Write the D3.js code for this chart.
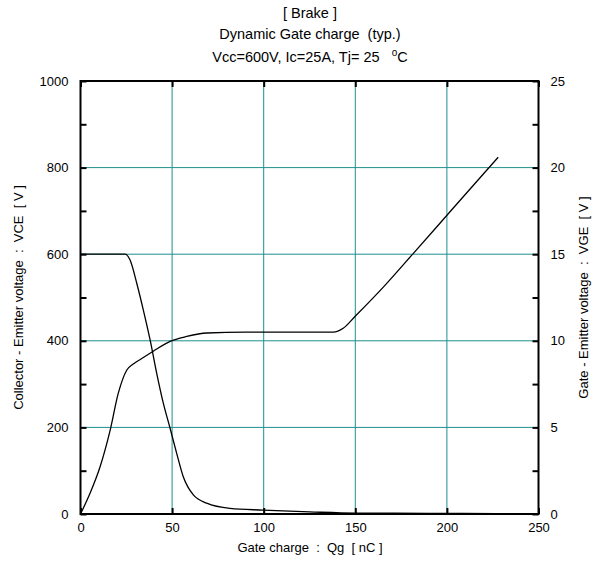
<!DOCTYPE html>
<html><head><meta charset="utf-8">
<script src="https://cdn.jsdelivr.net/npm/d3@7"></script>
<style>body{margin:0;background:#fff;} text{font-family:"Liberation Sans",Arial,sans-serif;white-space:pre;}</style>
</head><body><svg id="c" width="599" height="563"></svg>
<script>
const titleLines = ["[ Brake ]", "Dynamic Gate charge  (typ.)"];
const xTicks = [0, 50, 100, 150, 200, 250];
const yLeftTicks = [0, 200, 400, 600, 800, 1000];
const yRightTicks = [0, 5, 10, 15, 20, 25];
// VCE curve (left axis) : Qg [nC], VCE [V]
const vceQ = [0, 10, 20, 24.3, 27, 30.7, 34.3, 38, 41.6, 45.2, 48.9, 52.5, 56.1, 61.6, 68.9, 81.6, 99.6, 125, 150, 190, 227];
const vceV = [600, 600, 600, 600, 587, 533, 471, 402, 325, 256, 198, 140, 86, 44, 25, 13, 9, 5, 2, 1.5, 1];
// VGE curve (right axis) : Qg [nC], VGE [V]
const vgeQ = [0, 5.2, 10.6, 16.1, 20.6, 25.2, 28.8, 33, 39.7, 48.9, 58, 68.9, 90, 110, 138, 143.4, 149.8, 165.3, 181.7, 201.7, 221.7, 228];
const vgeV = [0, 1.2, 2.7, 4.8, 6.96, 8.3, 8.66, 8.95, 9.4, 9.97, 10.25, 10.45, 10.5, 10.5, 10.5, 10.72, 11.4, 13.1, 15.05, 17.45, 19.85, 20.6];

const svg = d3.select("#c");
const L = 80.5, R = 538.5, T = 81, B = 514;
const x = d3.scaleLinear().domain([0, 250]).range([L, R]);
const yL = d3.scaleLinear().domain([0, 1000]).range([B, T]);
const yR = d3.scaleLinear().domain([0, 25]).range([B, T]);
const grid = "#1f8f8f";
const FS = 13;

// grid
svg.append("g").selectAll("line").data([50,100,150,200]).join("line")
  .attr("x1", d=>x(d)).attr("x2", d=>x(d)).attr("y1", T).attr("y2", B)
  .attr("stroke", grid).attr("stroke-width", 1);
svg.append("g").selectAll("line").data([200,400,600,800]).join("line")
  .attr("y1", d=>yL(d)).attr("y2", d=>yL(d)).attr("x1", L).attr("x2", R)
  .attr("stroke", grid).attr("stroke-width", 1);

// axes (ticks inward)
const fmtNone = () => "";
svg.append("g").attr("transform", `translate(0,${B})`)
  .call(d3.axisBottom(x).tickValues(xTicks).tickSizeInner(-6).tickSizeOuter(0).tickPadding(9))
  .call(g => { g.select(".domain").remove(); g.selectAll("line").attr("stroke-width", 2); });
svg.append("g").attr("transform", `translate(0,${T})`)
  .call(d3.axisTop(x).tickValues(xTicks).tickSizeInner(-6).tickSizeOuter(0).tickFormat(fmtNone))
  .call(g => { g.select(".domain").remove(); g.selectAll("line").attr("stroke-width", 2); });
svg.append("g").attr("transform", `translate(${L},0)`)
  .call(d3.axisLeft(yL).tickValues(d3.range(0, 1001, 100)).tickSizeInner(-6).tickSizeOuter(0).tickPadding(12)
     .tickFormat(d => yLeftTicks.includes(d) ? d : ""))
  .call(g => { g.select(".domain").remove(); g.selectAll("line").attr("stroke-width", 2); });
svg.append("g").attr("transform", `translate(${R},0)`)
  .call(d3.axisRight(yR).tickValues(d3.range(0, 25.1, 2.5)).tickSizeInner(-6).tickSizeOuter(0).tickPadding(12)
     .tickFormat(d => yRightTicks.includes(d) ? d : ""))
  .call(g => { g.select(".domain").remove(); g.selectAll("line").attr("stroke-width", 2); });
svg.selectAll(".tick text").attr("font-size", FS).attr("fill", "#000")
  .attr("font-family", "'Liberation Sans',Arial,sans-serif");

svg.append("rect").attr("x", L).attr("y", T).attr("width", R-L).attr("height", B-T)
  .attr("fill", "none").attr("stroke", "#000").attr("stroke-width", 2);

// curves
const lineL = d3.line().x(d=>x(d[0])).y(d=>yL(d[1])).curve(d3.curveMonotoneX);
const lineR = d3.line().x(d=>x(d[0])).y(d=>yR(d[1])).curve(d3.curveMonotoneX);
svg.append("path").attr("d", lineL(vceQ.map((q,i)=>[q, vceV[i]])))
  .attr("fill","none").attr("stroke","#000").attr("stroke-width",1.3);
svg.append("path").attr("d", lineR(vgeQ.map((q,i)=>[q, vgeV[i]])))
  .attr("fill","none").attr("stroke","#000").attr("stroke-width",1.3);

// titles
const cx = 310, TFS = 14.5;
svg.append("text").attr("x", cx).attr("y", 18).attr("text-anchor","middle").attr("font-size",TFS).text(titleLines[0]);
svg.append("text").attr("x", cx).attr("y", 39).attr("text-anchor","middle").attr("font-size",TFS).text(titleLines[1]);
const t3 = svg.append("text").attr("x", cx).attr("y", 62).attr("text-anchor","middle").attr("font-size",TFS);
t3.append("tspan").text("Vcc=600V, Ic=25A, Tj= 25   ");
t3.append("tspan").attr("font-size", 10).attr("dy", -6).text("o");
t3.append("tspan").attr("dy", 6).text("C");

svg.append("text").attr("x", cx).attr("y", 552).attr("text-anchor","middle").attr("font-size",FS).text("Gate charge  :  Qg  [ nC ]");
svg.append("text").attr("transform", `translate(23,${(T+B)/2}) rotate(-90)`).attr("text-anchor","middle").attr("font-size",FS)
  .text("Collector - Emitter voltage  :  VCE  [ V ]");
svg.append("text").attr("transform", `translate(588,${(T+B)/2}) rotate(-90)`).attr("text-anchor","middle").attr("font-size",FS)
  .text("Gate - Emitter voltage  :  VGE  [ V ]");
</script></body></html>
